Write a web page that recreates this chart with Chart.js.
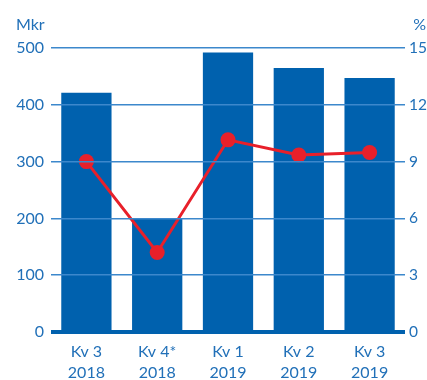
<!DOCTYPE html>
<html>
<head>
<meta charset="utf-8">
<script src="https://cdn.jsdelivr.net/npm/chart.js@4"></script>
<style>
  body { margin: 0; background: #fff; }
  canvas { display: block; }
</style>
</head>
<body>
<canvas id="chart" width="427" height="380"></canvas>
<script>
// Rörelseresultat (Mkr) och rörelsemarginal (%) per kvartal
const quarters = [['Kv 3', '2018'], ['Kv 4*', '2018'], ['Kv 1', '2019'], ['Kv 2', '2019'], ['Kv 3', '2019']];
const resultMkr = [421, 200, 492, 465, 447];
const marginPct = [9.0, 4.2, 10.15, 9.35, 9.48];
const leftTicks = [0, 100, 200, 300, 400, 500];
const rightTicks = [0, 3, 6, 9, 12, 15];

const blue = '#0061ae';
const textBlue = '#2170b8';
const red = '#e8202a';
const font = { family: 'Lato', size: 16, lineHeight: 1.34 };
const rightFont = { family: 'Lato', size: 15.5 };

// unit labels above the axes
const unitLabels = {
    id: 'unitLabels',
    afterDraw(chart) {
        const c = chart.ctx;
        c.save();
        c.fillStyle = textBlue;
        c.font = '16px Lato';
        c.textBaseline = 'alphabetic';
        c.textAlign = 'left';
        c.fillText('Mkr', 16, 30);
        c.textAlign = 'right';
        c.fillText('%', 426, 30);
        c.restore();
    }
};

const ctx = document.getElementById('chart').getContext('2d');
const chart = new Chart(ctx, {
    type: 'bar',
    data: {
        labels: quarters,
        datasets: [{
            type: 'line',
            label: 'Rörelsemarginal',
            data: marginPct,
            yAxisID: 'y1',
            borderColor: red,
            backgroundColor: red,
            borderWidth: 3,
            pointRadius: 7.5,
            pointBackgroundColor: red,
            pointBorderWidth: 0,
            tension: 0,
            order: 1
        }, {
            label: 'Rörelseresultat',
            data: resultMkr,
            yAxisID: 'y',
            backgroundColor: blue,
            categoryPercentage: 1,
            barPercentage: 0.71,
            order: 2
        }]
    },
    options: {
        responsive: false,
        animation: false,
        layout: { padding: { top: 48, left: 0, right: 0, bottom: 0 } },
        plugins: {
            legend: { display: false },
            tooltip: { enabled: false }
        },
        scales: {
            x: {
                afterFit: axis => { axis.height = 48; },
                grid: { display: false },
                border: { display: false },
                ticks: { color: textBlue, font: font, padding: 1, maxRotation: 0 }
            },
            y: {
                min: 0,
                max: 500,
                afterFit: axis => { axis.width = 51; },
                afterBuildTicks: axis => { axis.ticks = leftTicks.map(v => ({ value: v })); },
                border: { display: false },
                grid: {
                    drawTicks: false,
                    color: c => c.tick && c.tick.value === 0 ? blue : '#3c88cc',
                    lineWidth: c => c.tick && c.tick.value === 0 ? 4 : 1.5,
                    z: 1
                },
                ticks: { color: textBlue, font: font, padding: 7 }
            },
            y1: {
                position: 'right',
                min: 0,
                max: 15,
                afterFit: axis => { axis.width = 22; },
                afterBuildTicks: axis => { axis.ticks = rightTicks.map(v => ({ value: v })); },
                border: { display: false },
                grid: { display: false, drawTicks: false },
                ticks: { color: textBlue, font: rightFont, padding: 4 }
            }
        }
    },
    plugins: [unitLabels]
});
</script>
</body>
</html>
